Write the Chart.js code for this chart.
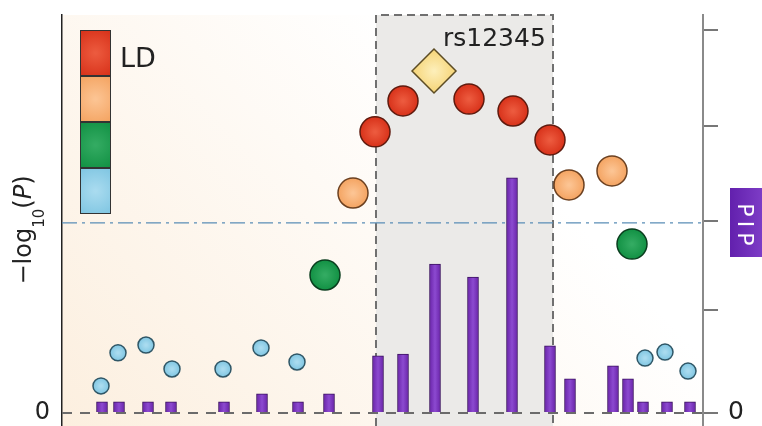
<!DOCTYPE html>
<html>
<head>
<meta charset="utf-8">
<script src="https://cdn.jsdelivr.net/npm/chart.js@4.4.1/dist/chart.umd.min.js"></script>
<style>
    html, body { margin: 0; padding: 0; background: #fff; }
    #wrap { width: 762px; height: 426px; }
</style>
</head>
<body>
<div id="wrap"><canvas id="chart" width="762" height="426"></canvas></div>
<script>
// SNP positions (kb) and association -log10(P)
const snpPos = [39, 56, 84, 110, 161, 199, 235, 263, 291, 313, 341, 407, 451, 488, 507, 550, 570, 583, 603, 626];
const snpLogP = [1.04, 2.31, 2.61, 1.69, 1.69, 2.50, 1.96, 5.30, 8.45, 10.80, 11.99, 12.06, 11.60, 10.49, 8.76, 9.30, 6.49, 2.11, 2.34, 1.61];
// LD bin: 0 = highest (red) ... 3 = lowest (blue)
const snpLD = [3, 3, 3, 3, 3, 3, 3, 2, 1, 0, 0, 0, 0, 0, 1, 1, 2, 3, 3, 3];

// lead variant
const leadName = "rs12345";
const leadPos = 372;
const leadLogP = 13.14;

// posterior inclusion probabilities
const pipPos = [40, 57, 86, 109, 162, 200, 236, 267, 316, 341, 373, 411, 450, 488, 508, 551, 566, 581, 605, 628];
const pipVal = [0.029, 0.029, 0.029, 0.029, 0.029, 0.05, 0.029, 0.05, 0.149, 0.154, 0.389, 0.355, 0.614, 0.175, 0.089, 0.123, 0.089, 0.029, 0.029, 0.029];
const pipTicks = [0, 0.27, 0.5, 0.75, 1];

const regionStart = 314;
const regionEnd = 491;
const threshold = 7.3;

const ldColors = ["#d8321a", "#f4a462", "#129144", "#80c6e2"];
const ldLight = ["#ec5a3e", "#fcc493", "#33ab62", "#a9dbef"];
const ldBorder = ["#5e1a0e", "#6b4020", "#0a3d1e", "#2f5666"];
const ldRadius = [15, 15, 15, 8];

// radial highlight for the balls
function ballFill(i) {
    return function (c) {
        const chart = c.chart;
        if (c.type !== "data" || !chart.chartArea) return ldColors[i];
        const px = chart.scales.x.getPixelForValue(c.raw.x);
        const py = chart.scales.y.getPixelForValue(c.raw.y);
        const r = ldRadius[i];
        const g = chart.ctx.createRadialGradient(px, py, 1, px, py, r);
        g.addColorStop(0, ldLight[i]);
        g.addColorStop(1, ldColors[i]);
        return g;
    };
}

const datasets = [];
for (let i = 0; i < 4; i++) {
    const pts = [];
    snpPos.forEach((p, k) => {
        if (snpLD[k] === i) pts.push({ x: p, y: snpLogP[k] });
    });
    datasets.push({
        type: "scatter",
        data: pts,
        yAxisID: "y",
        pointRadius: ldRadius[i],
        pointBackgroundColor: ballFill(i),
        pointBorderColor: ldBorder[i],
        pointBorderWidth: 1.5,
        order: 1
    });
}

datasets.push({
    type: "scatter",
    data: [{ x: leadPos, y: leadLogP }],
    yAxisID: "y",
    pointStyle: "rectRot",
    pointRadius: 22,
    pointBackgroundColor: function (c) {
        const chart = c.chart;
        if (c.type !== "data" || !chart.chartArea) return "#f8dc86";
        const px = chart.scales.x.getPixelForValue(c.raw.x);
        const py = chart.scales.y.getPixelForValue(c.raw.y);
        const g = chart.ctx.createRadialGradient(px, py, 1, px, py, 20);
        g.addColorStop(0, "#fdeeb8");
        g.addColorStop(1, "#f6d67c");
        return g;
    },
    pointBorderColor: "#5c4c24",
    pointBorderWidth: 1.5,
    order: 0
});

datasets.push({
    type: "bar",
    data: pipPos.map((p, k) => ({ x: p, y: pipVal[k] })),
    yAxisID: "y2",
    barThickness: 11,
    backgroundColor: function (c) {
        const chart = c.chart;
        if (c.type !== "data" || !chart.chartArea) return "#7a34bd";
        const px = chart.scales.x.getPixelForValue(c.raw.x);
        const g = chart.ctx.createLinearGradient(px - 5.5, 0, px + 5.5, 0);
        g.addColorStop(0, "#6a24aa");
        g.addColorStop(0.5, "#8c4ad0");
        g.addColorStop(1, "#6a24aa");
        return g;
    },
    borderColor: "#3b125f",
    borderWidth: 1,
    order: 2
});

const backdrop = {
    id: "backdrop",
    beforeDraw(chart) {
        const { ctx, chartArea: a } = chart;
        ctx.save();
        ctx.fillStyle = "#fff";
        ctx.fillRect(0, 0, chart.width, chart.height);
        const g = ctx.createLinearGradient(a.left, a.bottom, a.left + 380, a.top + 60);
        g.addColorStop(0, "#fcefdf");
        g.addColorStop(1, "#ffffff");
        ctx.fillStyle = g;
        ctx.fillRect(a.left, a.top, a.right - a.left, a.bottom - a.top);
        const x0 = chart.scales.x.getPixelForValue(regionStart);
        const x1 = chart.scales.x.getPixelForValue(regionEnd);
        ctx.fillStyle = "#ebeae8";
        ctx.fillRect(x0, a.top, x1 - x0, a.bottom - a.top);
        ctx.restore();
    },
    beforeDatasetsDraw(chart) {
        const { ctx, chartArea: a } = chart;
        const y0 = chart.scales.y.getPixelForValue(0);
        const yt = chart.scales.y.getPixelForValue(threshold);
        const x0 = chart.scales.x.getPixelForValue(regionStart);
        const x1 = chart.scales.x.getPixelForValue(regionEnd);
        ctx.save();
        // zero line
        ctx.strokeStyle = "#6b6b6b";
        ctx.lineWidth = 2;
        ctx.setLineDash([10, 8]);
        ctx.beginPath();
        ctx.moveTo(a.left, y0);
        ctx.lineTo(a.right, y0);
        ctx.stroke();
        // region border
        ctx.strokeStyle = "#707070";
        ctx.setLineDash([8, 5]);
        ctx.beginPath();
        ctx.moveTo(x0, a.bottom);
        ctx.lineTo(x0, a.top);
        ctx.lineTo(x1, a.top);
        ctx.lineTo(x1, a.bottom);
        ctx.stroke();
        // significance threshold
        ctx.strokeStyle = "#5a8db6";
        ctx.lineWidth = 1.2;
        ctx.setLineDash([15, 5, 3, 5]);
        ctx.beginPath();
        ctx.moveTo(a.left, yt);
        ctx.lineTo(a.right, yt);
        ctx.stroke();
        ctx.restore();
    },
    afterDraw(chart) {
        const ctx = chart.ctx;
        ctx.save();
        // LD legend
        const lx = 80, lw = 31, lh = 46;
        let ly = 30;
        for (let i = 0; i < 4; i++) {
            const g = ctx.createRadialGradient(lx + lw / 2, ly + lh / 2, 1, lx + lw / 2, ly + lh / 2, 26);
            g.addColorStop(0, ldLight[i]);
            g.addColorStop(1, ldColors[i]);
            ctx.fillStyle = g;
            ctx.fillRect(lx, ly, lw, lh);
            ctx.strokeStyle = "#333";
            ctx.lineWidth = 1;
            ctx.strokeRect(lx + 0.5, ly + 0.5, lw - 1, lh - 1);
            ly += lh;
        }
        ctx.fillStyle = "#222";
        ctx.font = "27px 'DejaVu Sans'";
        ctx.textBaseline = "alphabetic";
        ctx.textAlign = "left";
        ctx.fillText("LD", 120, 67);

        // lead label
        ctx.font = "25px 'DejaVu Sans'";
        ctx.fillText(leadName, 443, 46);

        // left axis title: -log10(P)
        ctx.translate(31, 230);
        ctx.rotate(-Math.PI / 2);
        const big = "24px 'DejaVu Sans'";
        const sub = "15px 'DejaVu Sans'";
        const ital = "italic 24px 'DejaVu Sans'";
        const parts = [["\u2212log", big, 0], ["10", sub, 13], ["(", big, 0], ["P", ital, 0], [")", big, 0]];
        let total = 0;
        parts.forEach(p => { ctx.font = p[1]; total += ctx.measureText(p[0]).width; });
        let tx = -total / 2;
        parts.forEach(p => {
            ctx.font = p[1];
            ctx.fillText(p[0], tx, p[2]);
            tx += ctx.measureText(p[0]).width;
        });
        ctx.setTransform(1, 0, 0, 1, 0, 0);

        // PIP box
        const bg = ctx.createLinearGradient(730, 0, 762, 0);
        bg.addColorStop(0, "#6220ad");
        bg.addColorStop(1, "#7d3cc6");
        ctx.fillStyle = bg;
        ctx.fillRect(730, 188, 32, 69);
        ctx.translate(738, 224);
        ctx.rotate(Math.PI / 2);
        ctx.fillStyle = "#fff";
        ctx.font = "22px 'DejaVu Sans'";
        ctx.textAlign = "center";
        ctx.textBaseline = "alphabetic";
        ctx.fillText("P", -14, 0);
        ctx.fillText("I", 0, 0);
        ctx.fillText("P", 15, 0);
        ctx.restore();
    }
};

new Chart(document.getElementById("chart"), {
    type: "scatter",
    data: { datasets: datasets },
    options: {
        responsive: false,
        animation: false,
        events: [],
        layout: { autoPadding: false, padding: { top: 15, bottom: 0, left: 0, right: 0 } },
        plugins: { legend: { display: false }, tooltip: { enabled: false } },
        scales: {
            x: {
                type: "linear",
                display: false,
                offset: false,
                min: 0,
                max: 641
            },
            y: {
                position: "left",
                min: -0.5,
                max: 15.29,
                afterBuildTicks(s) { s.ticks = [{ value: 0 }]; },
                afterFit(s) { s.width = 62; s.paddingTop = 0; s.paddingBottom = 0; },
                grid: { drawOnChartArea: false, drawTicks: false },
                border: { color: "#222", width: 1.5 },
                ticks: { color: "#222", padding: 12, font: { family: "DejaVu Sans", size: 24 } }
            },
            y2: {
                position: "right",
                min: -0.034,
                max: 1.039,
                afterBuildTicks(s) { s.ticks = pipTicks.map(v => ({ value: v })); },
                afterFit(s) { s.width = 59; s.paddingTop = 0; s.paddingBottom = 0; },
                grid: { drawOnChartArea: false, tickLength: 15, color: "#777", lineWidth: 2 },
                border: { color: "#8a8a8a", width: 2 },
                ticks: {
                    color: "#222",
                    padding: 10,
                    font: { family: "DejaVu Sans", size: 25 },
                    callback: v => (v === 0 ? "0" : "")
                }
            }
        }
    },
    plugins: [backdrop]
});
</script>
</body>
</html>
